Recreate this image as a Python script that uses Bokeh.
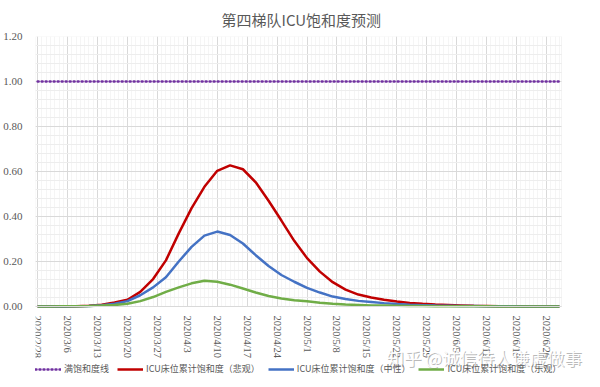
from math import pi
from bokeh.plotting import figure
from bokeh.models import (Range1d, SingleIntervalTicker, FixedTicker,
                          NumeralTickFormatter, Legend, LegendItem, Label,
                          BoxAnnotation)
from bokeh.embed import file_html
from bokeh.resources import INLINE

# ---- data (day index 0 = 2020/2/28) ----
days = [0, 3, 6, 9, 12, 15, 18, 21, 24, 27, 30, 33, 36, 39, 42, 45, 48, 51, 54, 57,
        60, 63, 66, 69, 72, 75, 78, 81, 84, 87, 90, 93, 96, 99, 102, 105, 108, 111,
        114, 117, 120, 122]

pessimistic = [0.000, 0.000, 0.000, 0.001, 0.003, 0.008, 0.018, 0.030, 0.065, 0.122,
               0.205, 0.325, 0.437, 0.532, 0.603, 0.627, 0.610, 0.552, 0.470, 0.382,
               0.292, 0.215, 0.155, 0.108, 0.075, 0.053, 0.040, 0.030, 0.022, 0.016,
               0.012, 0.009, 0.007, 0.005, 0.003, 0.002, 0.001, 0.001, 0.000, 0.000,
               0.000, 0.000]

neutral = [0.000, 0.000, 0.000, 0.001, 0.002, 0.006, 0.012, 0.024, 0.050, 0.085,
           0.130, 0.200, 0.265, 0.315, 0.333, 0.318, 0.280, 0.228, 0.180, 0.140,
           0.110, 0.083, 0.062, 0.044, 0.033, 0.025, 0.020, 0.015, 0.011, 0.008,
           0.006, 0.004, 0.003, 0.002, 0.002, 0.001, 0.001, 0.001, 0.000, 0.000,
           0.000, 0.000]

optimistic = [0.000, 0.000, 0.001, 0.001, 0.002, 0.004, 0.007, 0.012, 0.024, 0.042,
              0.065, 0.085, 0.103, 0.114, 0.110, 0.097, 0.080, 0.062, 0.047, 0.036,
              0.028, 0.023, 0.017, 0.012, 0.009, 0.007, 0.005, 0.004, 0.003, 0.002,
              0.002, 0.001, 0.001, 0.001, 0.001, 0.001, 0.000, 0.000, 0.000, 0.000,
              0.000, 0.000]

full_days = [0, 122]
full_level = [1.00, 1.00]

y_ticks = [0.0, 0.2, 0.4, 0.6, 0.8, 1.0, 1.2]
tick_labels = ["2020/2/28", "2020/3/6", "2020/3/13", "2020/3/20", "2020/3/27",
               "2020/4/3", "2020/4/10", "2020/4/17", "2020/4/24", "2020/5/1",
               "2020/5/8", "2020/5/15", "2020/5/22", "2020/5/29", "2020/6/5",
               "2020/6/12", "2020/6/19", "2020/6/26"]

series_names = ["满饱和度线", "ICU床位累计饱和度（悲观）",
                "ICU床位累计饱和度（中性）", "ICU床位累计饱和度（乐观）"]
title_text = "第四梯队ICU饱和度预测"
watermark = "知乎 @诚信待人谦虚做事"

CJK = "Noto Sans CJK SC"
SERIF = "Liberation Serif"
GREY = "#595959"

# ---- layout constants (pixels) ----
BORDER_L, BORDER_T = 29, 31
FRAME_W, FRAME_H = 561, 346           # frame runs past the chart area (legend etc.)
PLOT_W, PLOT_H = 526, 270             # the visible chart area inside the frame
X0, X1 = -0.5, 122.5                  # category slots
Y0, Y1 = 0.0, 1.2
px_x = PLOT_W / (X1 - X0)
px_y = PLOT_H / (Y1 - Y0)

p = figure(frame_width=FRAME_W, frame_height=FRAME_H, output_backend="svg",
           toolbar_location=None,
           x_range=Range1d(X0, X0 + FRAME_W / px_x),
           y_range=Range1d(Y1 - FRAME_H / px_y, Y1),
           min_border=0, min_border_left=BORDER_L, min_border_right=0,
           min_border_top=BORDER_T, min_border_bottom=0)

p.title.text = title_text
p.title.align = "left"
p.title.offset = 186
p.title.standoff = 13
p.title.text_font = CJK
p.title.text_font_size = "15px"
p.title.text_font_style = "normal"
p.title.text_color = GREY

p.outline_line_color = None

# axes
p.xaxis.fixed_location = 0
p.xaxis.bounds = (X0, X1)
p.xaxis.ticker = SingleIntervalTicker(interval=7, num_minor_ticks=7)
p.xaxis.major_label_overrides = {i * 7: lab for i, lab in enumerate(tick_labels)}
p.xaxis.major_label_orientation = -pi / 2
p.yaxis.bounds = (Y0, Y1)
p.yaxis.ticker = FixedTicker(ticks=y_ticks,
                             minor_ticks=[round(0.04 * k, 2) for k in range(31)])
p.yaxis.formatter = NumeralTickFormatter(format="0.00")

for ax in (p.xaxis, p.yaxis):
    ax.major_tick_line_color = None
    ax.minor_tick_line_color = None
    ax.major_label_text_font = SERIF
    ax.major_label_text_color = GREY
p.xaxis.axis_line_color = "#D9D9D9"
p.yaxis.axis_line_color = None
p.xaxis.major_label_text_font_size = "10.5px"
p.yaxis.major_label_text_font_size = "11px"
p.xaxis.major_tick_out = 0
p.yaxis.major_tick_out = 0
p.xaxis.major_label_standoff = 5
p.yaxis.major_label_standoff = 9

# grids
p.xgrid.grid_line_color = "#D9D9D9"
p.ygrid.grid_line_color = "#D9D9D9"
p.xgrid.minor_grid_line_color = "#F5F5F5"
p.ygrid.minor_grid_line_color = "#EDEDED"

# white-out outside the chart area, and its border
p.add_layout(BoxAnnotation(top=Y0, fill_color="white", fill_alpha=1.0,
                           line_color=None, level="underlay"))
p.add_layout(BoxAnnotation(left=X1, fill_color="white", fill_alpha=1.0,
                           line_color=None, level="underlay"))
p.add_layout(BoxAnnotation(left=X0, right=X1, bottom=Y0, top=Y1, fill_alpha=0,
                           line_color="#D9D9D9", line_width=1, level="underlay"))

r0 = p.line(full_days, full_level, line_color="#7030A0", line_width=2.5,
            line_dash="1 3", line_cap="round")
r1 = p.line(days, pessimistic, line_color="#C00000", line_width=2.5)
r2 = p.line(days, neutral, line_color="#4472C4", line_width=2.5)
r3 = p.line(days, optimistic, line_color="#70AD47", line_width=2.5)

legend = Legend(items=[LegendItem(label=n, renderers=[r])
                       for n, r in zip(series_names, [r0, r1, r2, r3])],
                orientation="horizontal", location=(0, 7),
                label_text_font=CJK, label_text_font_size="9px",
                label_text_color=GREY, glyph_width=26, glyph_height=10,
                label_standoff=3, spacing=8, padding=0, margin=0,
                border_line_color=None, background_fill_alpha=0)
p.add_layout(legend, "center")

wm_shadow = Label(x=352, y=12, x_units="screen", y_units="screen", text=watermark,
                  text_font=CJK, text_font_size="17.5px", text_color="#8C8C8C",
                  text_alpha=0.6)
wm = Label(x=351, y=13, x_units="screen", y_units="screen", text=watermark,
           text_font=CJK, text_font_size="17.5px", text_color="#FFFFFF",
           text_alpha=0.95)
p.add_layout(wm_shadow)
p.add_layout(wm)

open("out.html", "w").write(file_html(p, INLINE))
